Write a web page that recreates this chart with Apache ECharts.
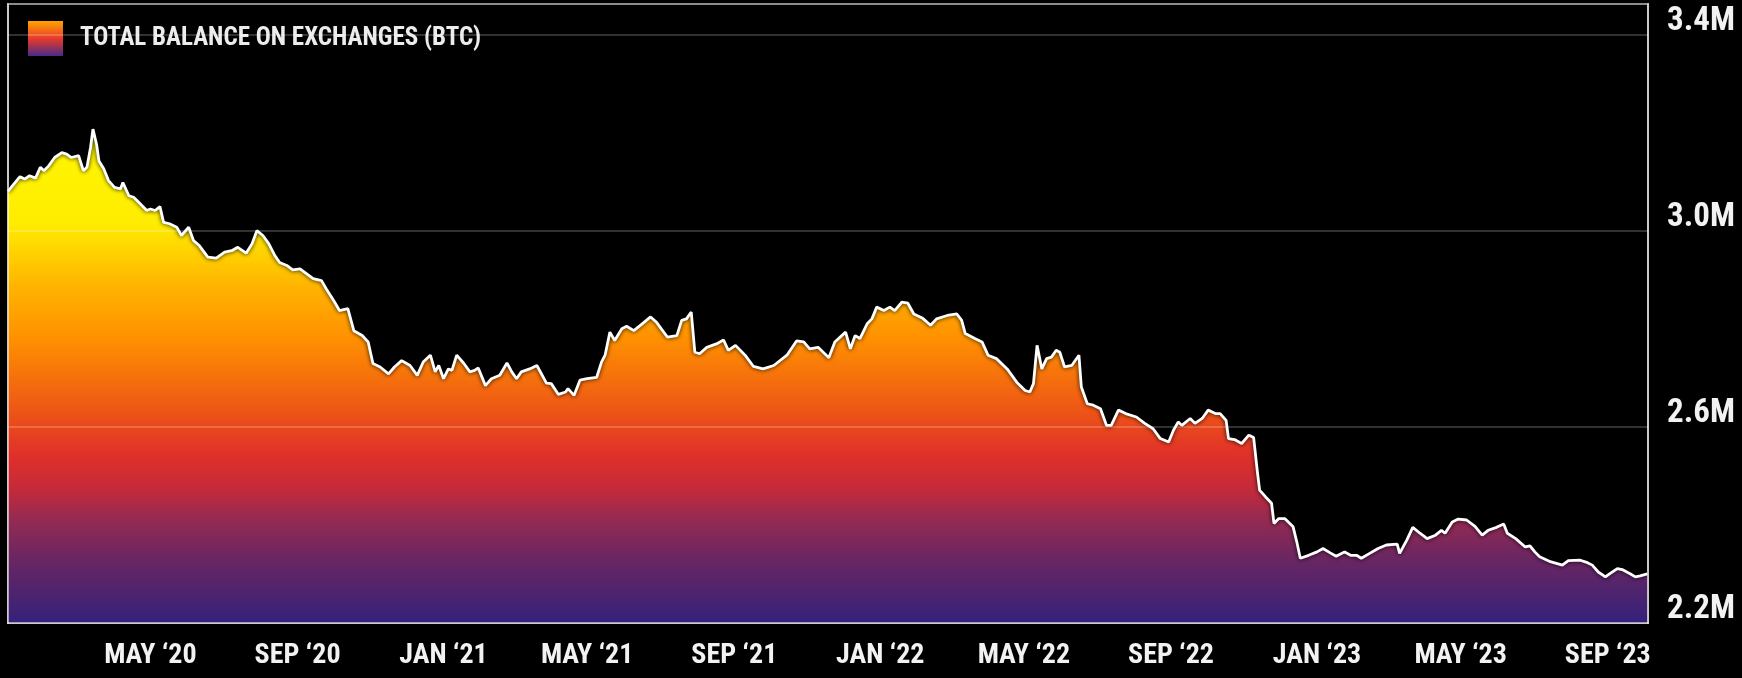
<!DOCTYPE html>
<html><head><meta charset="utf-8">
<script src="https://cdn.jsdelivr.net/npm/echarts@6/dist/echarts.min.js"></script>
<style>html,body{margin:0;padding:0;background:#000;overflow:hidden}#c{width:1742px;height:678px}</style>
</head><body><div id="c"></div>
<script>
const seriesName = 'TOTAL BALANCE ON EXCHANGES (BTC)';
const startDate = '2020-01-01';
// days since startDate
const dayOffsets = [2,6,12,16,20,25,29,32,36,41,47,51,55,61,65,68,71,73,76,78,82,86,91,96,98,103,107,110,118,121,125,129,132,137,143,147,153,157,162,169,176,183,189,194,201,206,210,215,220,225,229,235,240,246,250,257,264,268,274,279,286,291,298,303,307,313,320,325,331,338,344,349,355,359,362,366,370,373,377,383,388,392,395,401,406,413,419,423,427,431,438,444,452,456,462,468,470,475,480,486,494,498,501,505,509,515,519,525,532,539,544,553,561,565,569,573,576,580,586,594,600,604,610,618,625,633,642,653,661,667,672,679,688,693,702,706,710,714,720,724,728,734,739,743,749,754,759,766,773,778,787,795,799,802,810,816,821,828,837,845,852,856,859,862,866,870,874,878,881,885,891,897,899,904,909,915,920,924,930,936,945,952,959,965,972,976,980,983,990,994,1000,1005,1011,1015,1020,1022,1027,1033,1039,1043,1046,1048,1053,1058,1060,1064,1069,1076,1079,1082,1089,1096,1101,1107,1112,1119,1124,1129,1133,1140,1147,1154,1163,1165,1171,1176,1182,1188,1195,1200,1203,1209,1214,1221,1228,1234,1239,1246,1252,1255,1262,1270,1274,1278,1282,1291,1301,1306,1316,1322,1326,1331,1337,1341,1347,1351,1358,1362,1366,1372];
// balance in million BTC
const balanceM = [3.080,3.092,3.110,3.105,3.112,3.107,3.129,3.122,3.132,3.149,3.159,3.156,3.149,3.153,3.122,3.129,3.170,3.207,3.176,3.142,3.126,3.102,3.088,3.085,3.098,3.071,3.068,3.061,3.041,3.044,3.041,3.049,3.017,3.014,3.007,2.990,3.007,2.980,2.969,2.946,2.944,2.956,2.959,2.966,2.954,2.973,3.000,2.990,2.973,2.949,2.935,2.929,2.920,2.922,2.915,2.902,2.898,2.881,2.858,2.837,2.841,2.796,2.786,2.773,2.729,2.722,2.708,2.722,2.735,2.725,2.705,2.732,2.746,2.712,2.725,2.698,2.718,2.715,2.746,2.729,2.712,2.715,2.720,2.684,2.698,2.705,2.730,2.712,2.698,2.712,2.718,2.725,2.689,2.688,2.666,2.671,2.678,2.664,2.695,2.698,2.701,2.732,2.746,2.793,2.776,2.800,2.805,2.796,2.810,2.824,2.813,2.783,2.786,2.817,2.820,2.834,2.752,2.749,2.762,2.769,2.777,2.756,2.766,2.746,2.723,2.718,2.725,2.746,2.775,2.773,2.759,2.762,2.741,2.773,2.793,2.759,2.786,2.780,2.810,2.820,2.844,2.837,2.844,2.837,2.854,2.852,2.830,2.822,2.807,2.820,2.827,2.830,2.817,2.790,2.780,2.773,2.746,2.739,2.718,2.691,2.674,2.671,2.688,2.766,2.718,2.739,2.742,2.756,2.752,2.722,2.725,2.746,2.681,2.647,2.644,2.637,2.603,2.603,2.634,2.627,2.620,2.607,2.596,2.576,2.569,2.593,2.610,2.603,2.617,2.607,2.617,2.634,2.627,2.627,2.613,2.576,2.574,2.566,2.583,2.578,2.511,2.471,2.457,2.444,2.403,2.413,2.413,2.396,2.366,2.332,2.338,2.345,2.352,2.343,2.336,2.345,2.338,2.338,2.332,2.342,2.352,2.359,2.361,2.342,2.369,2.395,2.383,2.372,2.379,2.389,2.383,2.406,2.412,2.410,2.397,2.379,2.389,2.395,2.402,2.383,2.372,2.355,2.357,2.345,2.335,2.325,2.318,2.327,2.328,2.323,2.318,2.304,2.294,2.301,2.311,2.309,2.300,2.294,2.296,2.300];
const xTickDates = ['2020-05-01','2020-09-01','2021-01-01','2021-05-01','2021-09-01','2022-01-01','2022-05-01','2022-09-01','2023-01-01','2023-05-01','2023-09-01'];
const xTickLabels = ['MAY ‘20','SEP ‘20','JAN ‘21','MAY ‘21','SEP ‘21','JAN ‘22','MAY ‘22','SEP ‘22','JAN ‘23','MAY ‘23','SEP ‘23'];
const xRange = ['2020-01-03T00:00:00Z','2023-10-04T14:00:00Z'];
const yTicks = [2.2, 2.6, 3.0, 3.4];
const yTickLabels = ['2.2M','2.6M','3.0M','3.4M'];
const gridValues = [2.6, 3.0, 3.4];
const yRange = [2.2, 3.462];

const DAY = 86400000;
const t0 = Date.parse(startDate + 'T00:00:00Z');
const seriesData = dayOffsets.map((d, i) => [t0 + d * DAY, balanceM[i]]);
const xTickTs = xTickDates.map(s => Date.parse(s + 'T00:00:00Z'));

const FONT = "'Roboto Condensed','Open Sans Condensed','Liberation Sans',sans-serif";
const frameColor = 'rgba(255,255,255,0.55)';

const chart = echarts.init(document.getElementById('c'));
chart.setOption({
  backgroundColor: '#000',
  animation: false,
  grid: { left: 8, right: 94, top: 4, bottom: 55, show: true, borderColor: frameColor, borderWidth: 2, backgroundColor: 'transparent' },
  legend: {
    data: [seriesName],
    left: 28, top: 21, padding: 0,
    icon: 'rect', itemWidth: 35, itemHeight: 35,
    itemStyle: {
      color: new echarts.graphic.LinearGradient(0, 0, 0, 1, [
        { offset: 0, color: '#ffa400' },
        { offset: 0.5, color: '#e83a2a' },
        { offset: 1, color: '#4a2a88' }
      ])
    },
    textStyle: { color: '#ececec', fontFamily: FONT, fontWeight: 'bold', fontSize: 25, padding: [0, 0, 0, 12] }
  },
  xAxis: {
    type: 'value',
    min: Date.parse(xRange[0]), max: Date.parse(xRange[1]),
    z: 5,
    axisLine: { show: true, lineStyle: { color: frameColor, width: 2 } },
    axisTick: { show: false },
    splitLine: { show: false },
    axisLabel: {
      customValues: xTickTs,
      margin: 19,
      color: '#f2f2f2', fontFamily: FONT, fontWeight: 'bold', fontSize: 28,
      formatter: v => { const i = xTickTs.indexOf(v); return i >= 0 ? xTickLabels[i] : ''; }
    }
  },
  yAxis: [{
    type: 'value', position: 'right',
    min: yRange[0], max: yRange[1],
    z: 5,
    axisLine: { show: true, lineStyle: { color: frameColor, width: 2 } },
    axisTick: { show: false },
    splitLine: { show: false },
    axisLabel: {
      customValues: yTicks,
      margin: 19,
      verticalAlign: 'bottom', lineHeight: 26,
      color: '#f2f2f2', fontFamily: FONT, fontWeight: 'bold', fontSize: 33,
      formatter: v => { const i = yTicks.findIndex(t => Math.abs(t - v) < 1e-6); return i >= 0 ? yTickLabels[i] : ''; }
    }
  }, {
    type: 'value', position: 'left',
    min: yRange[0], max: yRange[1],
    z: 5,
    axisLine: { show: true, onZero: false, lineStyle: { color: frameColor, width: 2 } },
    axisTick: { show: false }, axisLabel: { show: false }, splitLine: { show: false }
  }],
  series: [{
    name: seriesName,
    type: 'line',
    data: seriesData,
    showSymbol: false,
    symbol: 'none',
    smooth: false,
    z: 2,
    itemStyle: { color: '#e83a2a' },
    lineStyle: { color: '#ffffff', width: 2.8, shadowColor: 'rgba(0,0,0,0.95)', shadowBlur: 4 },
    areaStyle: {
      opacity: 1,
      color: new echarts.graphic.LinearGradient(0, 0, 0, 1, [
        { offset: 0, color: '#fff800' },
        { offset: 0.19, color: '#ffec00' },
        { offset: 0.32, color: '#ffb300' },
        { offset: 0.42, color: '#ff9200' },
        { offset: 0.56, color: '#ef5a14' },
        { offset: 0.66, color: '#e0302a' },
        { offset: 0.73, color: '#c42a3a' },
        { offset: 0.79, color: '#952a52' },
        { offset: 0.87, color: '#6a2662' },
        { offset: 1, color: '#35217a' }
      ])
    },
    markLine: {
      silent: true, symbol: 'none', animation: false,
      label: { show: false },
      lineStyle: { color: 'rgba(255,255,255,0.26)', width: 1.5, type: 'solid' },
      data: gridValues.map(v => ({ yAxis: v }))
    }
  }]
});
</script></body></html>
